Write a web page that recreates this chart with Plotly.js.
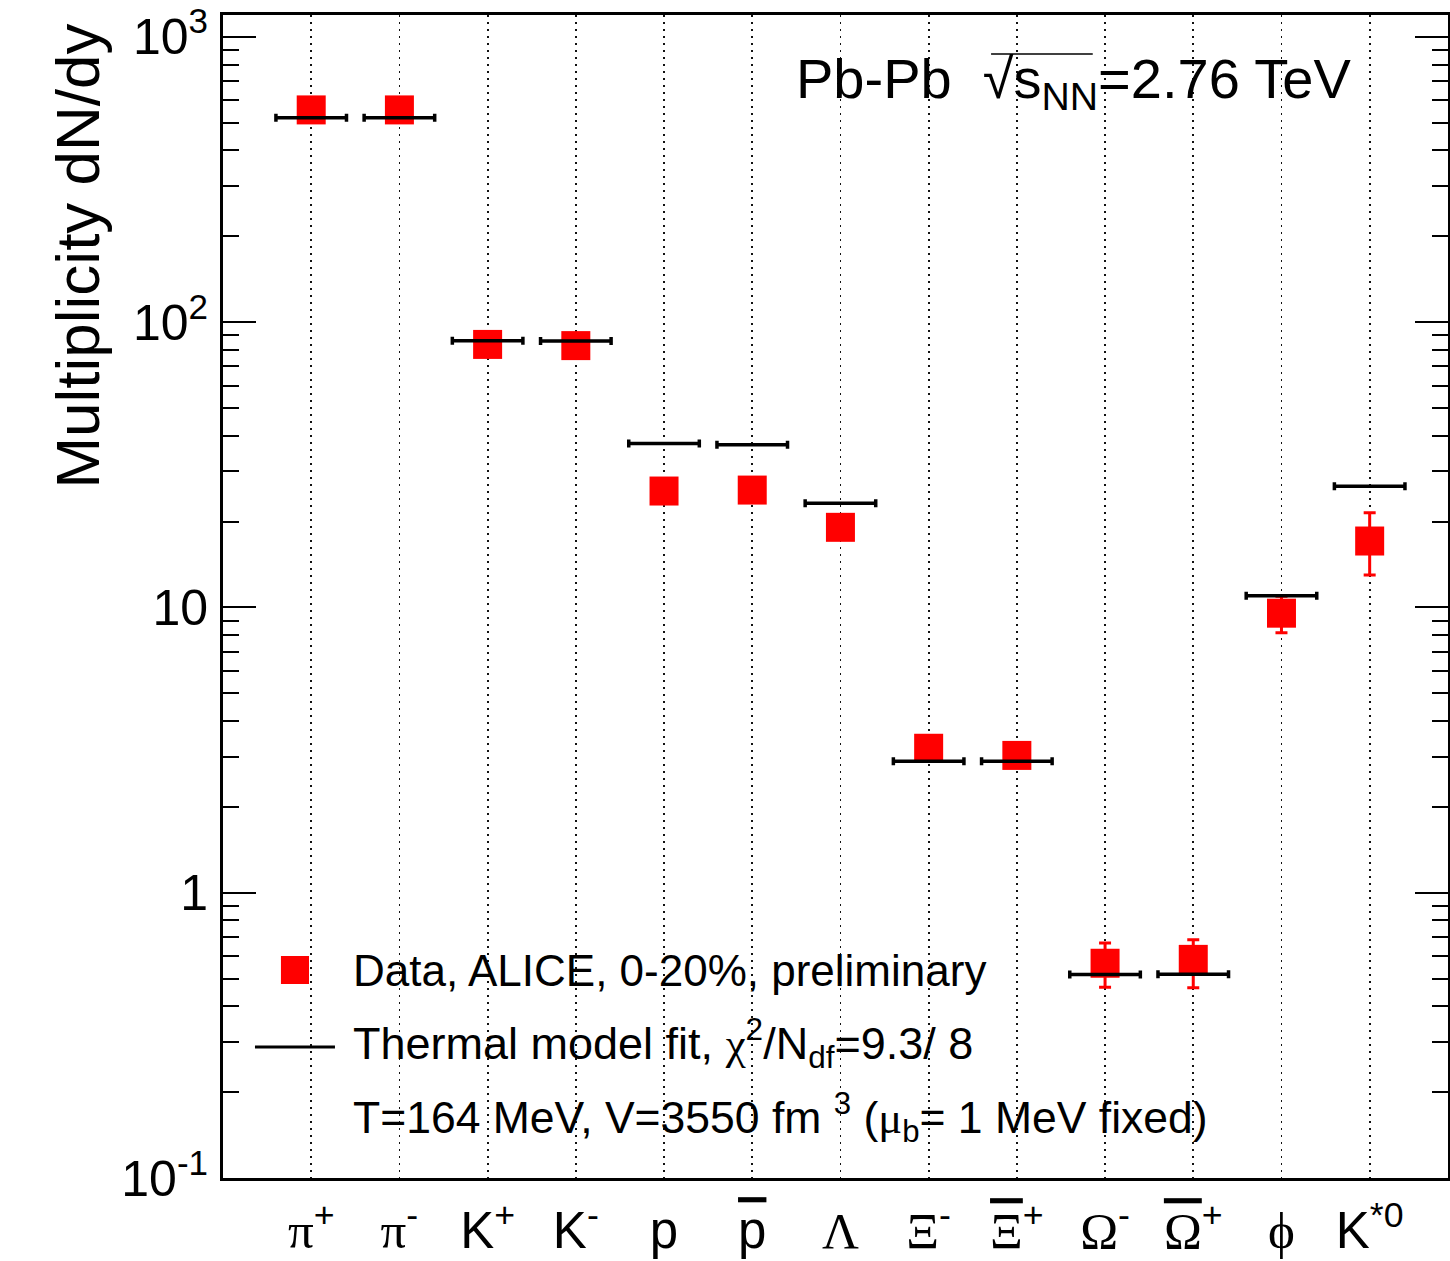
<!DOCTYPE html>
<html>
<head>
<meta charset="utf-8">
<script src="https://cdn.plot.ly/plotly-3.0.1.min.js"></script>
<style>html,body{margin:0;padding:0;background:#fff}#chart{width:1450px;height:1261px}</style>
</head>
<body>
<div id="chart"></div>
<script>
// Particle species (x categories)
const SERIF = "font-family:'Liberation Serif'";
const OVER = "text-decoration:overline";
const particles = [
  `<span style="${SERIF}">π</span><sup>+</sup>`,
  `<span style="${SERIF}">π</span><sup>-</sup>`,
  'K<sup>+</sup>',
  'K<sup>-</sup>',
  'p',
  `<span style="${OVER}">p</span>`,
  `<span style="${SERIF}">Λ</span>`,
  `<span style="${SERIF}">Ξ</span><sup>-</sup>`,
  `<span style="${SERIF};${OVER}">Ξ</span><sup>+</sup>`,
  `<span style="${SERIF}">Ω</span><sup>-</sup>`,
  `<span style="${SERIF};${OVER}">Ω</span><sup>+</sup>`,
  `<span style="${SERIF}">ϕ</span>`,
  'K<sup>*0</sup>'
];
// Measured yields dN/dy (ALICE, 0-20%, preliminary)
const dataYield = [555, 555, 83.6, 82.8, 25.6, 25.8, 19.1, 3.21, 3.03, 0.566, 0.584, 9.55, 17.1];
const dataErrUp = [0, 0, 0, 0, 0, 0, 0, 0, 0, 0.10, 0.10, 1.4, 4.4];
const dataErrDown = [0, 0, 0, 0, 0, 0, 0, 0, 0, 0.10, 0.12, 1.4, 4.1];
// Thermal model fit values
const thermalYield = [521, 521, 86.1, 86.0, 37.6, 37.2, 23.2, 2.89, 2.89, 0.517, 0.518, 10.99, 26.6];
// Y tick labels
const yTickVals = [0.1, 1, 10, 100, 1000];
const yTickText = ['10<sup>-1</sup>', '1', '10', '10<sup>2</sup>', '10<sup>3</sup>'];
const yMinorVals = [];
[0.1, 1, 10, 100].forEach(d => { for (let k = 2; k <= 9; k++) yMinorVals.push(+(d * k).toPrecision(3)); });

const xIdx = particles.map((_, i) => i);
const FONT = 'Liberation Sans, Arial, sans-serif';

const traces = [
  {
    x: xIdx, y: dataYield, type: 'scatter', mode: 'markers',
    marker: {symbol: 'square', size: 29, color: '#ff0000'},
    error_y: {type: 'data', symmetric: false, array: dataErrUp, arrayminus: dataErrDown,
              color: '#ff0000', thickness: 3, width: 6},
    showlegend: false, hoverinfo: 'skip'
  },
  {
    x: xIdx, y: thermalYield, type: 'scatter', mode: 'markers',
    marker: {size: 1, color: 'rgba(0,0,0,0)'},
    error_x: {type: 'constant', value: 0.4, color: '#000', thickness: 3.5, width: 4},
    showlegend: false, hoverinfo: 'skip'
  }
];

const layout = {
  width: 1450, height: 1261,
  margin: {l: 223, r: 2, t: 15, b: 83},
  paper_bgcolor: '#fff', plot_bgcolor: '#fff',
  font: {family: FONT, color: '#000'},
  showlegend: false,
  xaxis: {
    range: [-1.0, 12.888], tickmode: 'array', tickvals: xIdx, ticktext: particles,
    ticks: '', showline: true, mirror: true, linewidth: 3, linecolor: '#000',
    showgrid: true, gridcolor: '#111', gridwidth: 1.8, griddash: '2px,5px',
    zeroline: false, tickfont: {size: 51, family: FONT}, ticklabelstandoff: 6
  },
  yaxis: {
    type: 'log', range: [-1, Math.log10(1194)],
    tickmode: 'array', tickvals: yTickVals, ticktext: yTickText,
    ticks: 'inside', ticklen: 33, tickwidth: 2, tickcolor: '#000',
    minor: {tickmode: 'array', tickvals: yMinorVals, ticks: 'inside', ticklen: 16, tickwidth: 2, tickcolor: '#000', showgrid: false},
    showline: true, mirror: 'allticks', linewidth: 3, linecolor: '#000',
    showgrid: false, zeroline: false, tickfont: {size: 50, family: FONT}, ticklabelstandoff: 2
  },
  annotations: [
    {xref: 'paper', yref: 'paper', x: -0.1185, y: 0.793, text: 'Multiplicity dN/dy', textangle: -90,
     showarrow: false, font: {size: 62, family: FONT}, xanchor: 'center', yanchor: 'middle'},
    {xref: 'paper', yref: 'paper', x: 0.466, y: 0.942, xanchor: 'left', yanchor: 'middle', showarrow: false,
     text: 'Pb-Pb  √s<sub>NN</sub>=2.76 TeV', font: {size: 56, family: FONT}},
    {xref: 'paper', yref: 'paper', x: 0.1045, y: 0.1788, xanchor: 'left', yanchor: 'middle', showarrow: false,
     text: 'Data, ALICE, 0-20%, preliminary', font: {size: 44, family: FONT}},
    {xref: 'paper', yref: 'paper', x: 0.1045, y: 0.1161, xanchor: 'left', yanchor: 'middle', showarrow: false,
     text: `Thermal model fit, <span style="${SERIF}">χ</span><sup>2</sup>/N<sub>df</sub>=9.3/ 8`, font: {size: 45, family: FONT}},
    {xref: 'paper', yref: 'paper', x: 0.1045, y: 0.0516, xanchor: 'left', yanchor: 'middle', showarrow: false,
     text: `T=164 MeV, V=3550 fm <sup>3</sup> (<span style="${SERIF}">μ</span><sub>b</sub>= 1 MeV fixed)`, font: {size: 44.5, family: FONT}}
  ],
  shapes: [
    {type: 'rect', xref: 'paper', yref: 'paper', x0: 0.0473, x1: 0.0702, y0: 0.1668, y1: 0.1909,
     fillcolor: '#ff0000', line: {width: 0}},
    {type: 'line', xref: 'paper', yref: 'paper', x0: 0.0261, x1: 0.0914, y0: 0.1126, y1: 0.1126,
     line: {color: '#000', width: 3}},
    {type: 'line', xref: 'paper', yref: 'paper', x0: 0.627, x1: 0.71, y0: 0.9665, y1: 0.9665,
     line: {color: '#000', width: 1.5}}
  ]
};

Plotly.newPlot('chart', traces, layout, {staticPlot: true, displayModeBar: false});
</script>
</body>
</html>
